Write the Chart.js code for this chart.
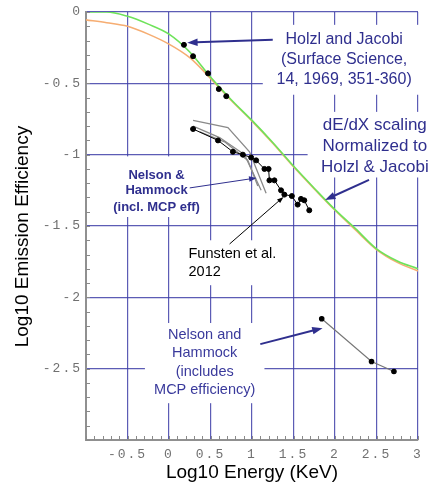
<!DOCTYPE html>
<html>
<head>
<meta charset="utf-8">
<script src="https://cdn.jsdelivr.net/npm/chart.js@4"></script>
<style>
  html, body { margin: 0; padding: 0; background: #fff; }
</style>
</head>
<body>
<canvas id="emission-chart" width="446" height="492"></canvas>
<script>
// Energy grid used for the two model curves (log10 KeV)
const curveEnergy = [-1, -0.75, -0.5, -0.25, 0, 0.25, 0.5, 0.75, 1, 1.25, 1.5, 1.75, 2, 2.25, 2.5, 2.75, 3];
// Holzl & Jacobi fit (green) and dE/dX scaling normalized to it (orange)
const holzlFit = [0, 0, -0.03, -0.085, -0.155, -0.28, -0.455, -0.615, -0.76, -0.915, -1.08, -1.235, -1.385, -1.52, -1.66, -1.745, -1.80];
const dedxScaling = [-0.055, -0.075, -0.10, -0.155, -0.225, -0.32, -0.465, -0.62, -0.765, -0.92, -1.085, -1.24, -1.39, -1.53, -1.665, -1.755, -1.815];

// Holzl and Jacobi measured points
const holzlX = [0.18, 0.29, 0.47, 0.60, 0.69];
const holzlY = [-0.23, -0.31, -0.43, -0.54, -0.59];

// Funsten et al. 2012
const funstenX = [0.29, 0.59, 0.77, 0.89, 0.99, 1.05, 1.15, 1.20, 1.21, 1.27, 1.35, 1.39, 1.48, 1.55, 1.59, 1.63, 1.69];
const funstenY = [-0.82, -0.90, -0.98, -1.00, -1.02, -1.04, -1.10, -1.10, -1.18, -1.18, -1.25, -1.28, -1.29, -1.35, -1.31, -1.32, -1.39];

// Nelson & Hammock (incl. MCP eff) - three grey traces
const nh1X = [0.29, 0.71, 0.97, 1.17];
const nh1Y = [-0.76, -0.81, -0.98, -1.27];
const nh2X = [0.29, 0.61, 0.91, 1.11];
const nh2Y = [-0.80, -0.88, -1.00, -1.25];
const nh3X = [0.37, 0.67, 0.95, 1.07];
const nh3Y = [-0.84, -0.91, -1.04, -1.22];

// Nelson and Hammock (includes MCP efficiency) - high energy
const nhHighX = [1.84, 2.44, 2.71];
const nhHighY = [-2.15, -2.45, -2.52];

const toPoints = (xs, ys) => xs.map((x, i) => ({ x: x, y: ys[i] }));

const gridBlue = "rgba(64, 64, 168, 0.85)";
const labelBlue = "#2f2f8e";

// white boxes behind the notes, in data units [x1, y1, x2, y2]
const noteBoxes = [
    [1.13, -0.09, 3.06, -0.58],
    [1.67, -0.70, 3.07, -1.16],
    [-0.83, -1.012, 0.43, -1.437],
    [0.14, -1.60, 1.45, -1.915],
    [-0.29, -2.18, 1.15, -2.742],
];

// text notes, anchored in data units
const notes = [
    { x: 2.11, y: [-0.194, -0.335, -0.475], lines: ["Holzl and Jacobi", "(Surface Science,", "14, 1969, 351-360)"], font: "16px 'Liberation Sans'", color: labelBlue, align: "center" },
    { x: 2.48, y: [-0.791, -0.938, -1.086], lines: ["dE/dX scaling", "Normalized to", "Holzl & Jacobi"], font: "17px 'Liberation Sans'", color: labelBlue, align: "center" },
    { x: -0.15, y: [-1.142, -1.254, -1.367], lines: ["Nelson &", "Hammock", "(incl. MCP eff)"], font: "bold 13px 'Liberation Sans'", color: labelBlue, align: "center" },
    { x: 0.235, y: [-1.696, -1.822], lines: ["Funsten et al.", "2012"], font: "14.5px 'Liberation Sans'", color: "#000", align: "left" },
    { x: 0.43, y: [-2.265, -2.391, -2.525, -2.65], lines: ["Nelson and", "Hammock", "(includes", "MCP efficiency)"], font: "14.5px 'Liberation Sans'", color: "#3a3a9c", align: "center" },
];

// arrows: from -> to (data units)
const arrows = [
    { from: [1.25, -0.194], to: [0.22, -0.215], color: labelBlue, width: 2, head: 11 },
    { from: [2.41, -1.177], to: [1.88, -1.317], color: labelBlue, width: 2, head: 11 },
    { from: [0.25, -1.233], to: [1.055, -1.163], color: labelBlue, width: 1, head: 8 },
    { from: [0.73, -1.626], to: [1.38, -1.296], color: "#000", width: 1, head: 7 },
    { from: [1.10, -2.328], to: [1.85, -2.216], color: labelBlue, width: 2, head: 11 },
];

const notesPlugin = {
    id: "notes",
    beforeDraw(chart) {
        chart.ctx.letterSpacing = "0px";
    },
    beforeDatasetsDraw(chart) {
        const { ctx, scales } = chart;
        const sx = (v) => scales.x.getPixelForValue(v);
        const sy = (v) => scales.y.getPixelForValue(v);
        ctx.save();
        ctx.fillStyle = "#fff";
        noteBoxes.forEach((b) => {
            ctx.fillRect(sx(b[0]), sy(b[1]), sx(b[2]) - sx(b[0]), sy(b[3]) - sy(b[1]));
        });
        ctx.textBaseline = "middle";
        notes.forEach((n) => {
            ctx.font = n.font;
            ctx.fillStyle = n.color;
            ctx.textAlign = n.align;
            n.lines.forEach((line, i) => ctx.fillText(line, sx(n.x), sy(n.y[i])));
        });
        ctx.restore();
    },
    afterDatasetsDraw(chart) {
        const { ctx, scales, chartArea } = chart;
        const sx = (v) => scales.x.getPixelForValue(v);
        const sy = (v) => scales.y.getPixelForValue(v);
        ctx.save();
        arrows.forEach((a) => {
            const x1 = sx(a.from[0]), y1 = sy(a.from[1]);
            const x2 = sx(a.to[0]), y2 = sy(a.to[1]);
            const ang = Math.atan2(y2 - y1, x2 - x1);
            const h = a.head;
            ctx.strokeStyle = a.color;
            ctx.fillStyle = a.color;
            ctx.lineWidth = a.width;
            ctx.beginPath();
            ctx.moveTo(x1, y1);
            ctx.lineTo(x2 - Math.cos(ang) * h * 0.8, y2 - Math.sin(ang) * h * 0.8);
            ctx.stroke();
            ctx.beginPath();
            ctx.moveTo(x2, y2);
            ctx.lineTo(x2 - h * Math.cos(ang - 0.35), y2 - h * Math.sin(ang - 0.35));
            ctx.lineTo(x2 - h * Math.cos(ang + 0.35), y2 - h * Math.sin(ang + 0.35));
            ctx.closePath();
            ctx.fill();
        });

        // minor ticks every 0.1, pointing into the plot
        ctx.strokeStyle = "#8a8a8a";
        ctx.lineWidth = 1;
        ctx.beginPath();
        for (let i = -10; i <= 30; i++) {
            const x = Math.round(sx(i / 10)) + 0.5;
            ctx.moveTo(x, chartArea.bottom);
            ctx.lineTo(x, chartArea.bottom - 4);
        }
        for (let i = -30; i <= 0; i++) {
            const y = Math.round(sy(i / 10)) + 0.5;
            ctx.moveTo(chartArea.left, y);
            ctx.lineTo(chartArea.left + 4, y);
        }
        ctx.stroke();
        ctx.restore();
        // wide spacing for the typewriter tick labels drawn next
        ctx.letterSpacing = "2px";
    },
    afterDraw(chart) {
        chart.ctx.letterSpacing = "0px";
    },
};

const tickFont = { family: "'Liberation Mono'", size: 13 };

new Chart(document.getElementById("emission-chart"), {
    type: "scatter",
    data: {
        datasets: [
            {
                label: "Holzl and Jacobi",
                data: toPoints(holzlX, holzlY),
                backgroundColor: "#000",
                borderColor: "#000",
                pointRadius: 2.5,
                showLine: false,
            },
            {
                label: "Funsten et al. 2012",
                data: toPoints(funstenX, funstenY),
                backgroundColor: "#000",
                borderColor: "#000",
                borderWidth: 1,
                pointRadius: 2.5,
                showLine: true,
            },
            {
                label: "Nelson & Hammock (includes MCP efficiency)",
                data: toPoints(nhHighX, nhHighY),
                backgroundColor: "#000",
                borderColor: "#777",
                pointBorderColor: "#000",
                borderWidth: 1.2,
                pointRadius: 2.2,
                showLine: true,
            },
            {
                label: "Nelson & Hammock 1",
                data: toPoints(nh1X, nh1Y),
                borderColor: "#8a8a8a",
                borderWidth: 1.3,
                pointRadius: 0,
                showLine: true,
            },
            {
                label: "Nelson & Hammock 2",
                data: toPoints(nh2X, nh2Y),
                borderColor: "#8a8a8a",
                borderWidth: 1.3,
                pointRadius: 0,
                showLine: true,
            },
            {
                label: "Nelson & Hammock 3",
                data: toPoints(nh3X, nh3Y),
                borderColor: "#8a8a8a",
                borderWidth: 1.3,
                pointRadius: 0,
                showLine: true,
            },
            {
                label: "Holzl fit",
                data: toPoints(curveEnergy, holzlFit),
                borderColor: "#6ee35a",
                borderWidth: 1.6,
                pointRadius: 0,
                showLine: true,
                cubicInterpolationMode: "monotone",
            },
            {
                label: "dE/dX scaling",
                data: toPoints(curveEnergy, dedxScaling),
                borderColor: "#f6ad72",
                borderWidth: 1.6,
                pointRadius: 0,
                showLine: true,
                cubicInterpolationMode: "monotone",
            },
        ],
    },
    plugins: [notesPlugin],
    options: {
        responsive: false,
        animation: false,
        layout: { padding: { top: 12, right: 28, left: 0, bottom: 0 } },
        plugins: {
            legend: { display: false },
            tooltip: { enabled: false },
        },
        scales: {
            x: {
                type: "linear",
                min: -1,
                max: 3,
                afterFit: (scale) => { scale.height = 52; },
                ticks: {
                    stepSize: 0.5,
                    z: 1,
                    padding: 7,
                    color: "#707070",
                    font: tickFont,
                    maxRotation: 0,
                    callback: (v) => (v === -1 ? "" : String(v)),
                },
                grid: {
                    drawTicks: false,
                    lineWidth: 1.2,
                    color: (c) => (c.tick && c.tick.value === -1 ? "rgba(0,0,0,0)" : gridBlue),
                },
                border: { color: "#909090", width: 2 },
                title: {
                    display: true,
                    text: "Log10 Energy (KeV)",
                    color: "#000",
                    font: { family: "'Liberation Sans'", size: 19 },
                    padding: { top: 0, bottom: 8 },
                },
            },
            y: {
                type: "linear",
                min: -3,
                max: 0,
                afterFit: (scale) => { scale.width = 86; },
                ticks: {
                    stepSize: 0.5,
                    z: 1,
                    padding: 4,
                    color: "#707070",
                    font: tickFont,
                    callback: (v) => (v === -3 ? "" : String(v)),
                },
                grid: {
                    drawTicks: false,
                    lineWidth: 1.2,
                    color: (c) => (c.tick && c.tick.value === -3 ? "rgba(0,0,0,0)" : gridBlue),
                },
                border: { color: "#909090", width: 2 },
                title: {
                    display: true,
                    text: "Log10 Emission Efficiency    ",
                    color: "#000",
                    font: { family: "'Liberation Sans'", size: 19 },
                    padding: { top: 11, bottom: 0 },
                },
            },
        },
    },
});
</script>
</body>
</html>
